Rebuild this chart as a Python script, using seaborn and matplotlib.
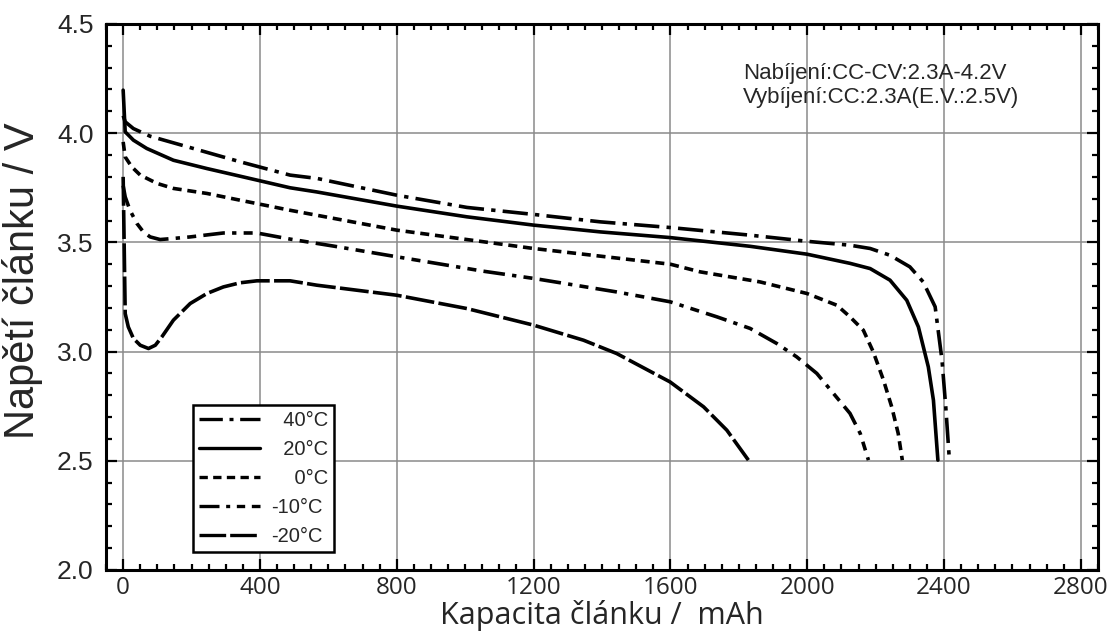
import pandas as pd
import seaborn as sns
import matplotlib.pyplot as plt
from matplotlib.ticker import MultipleLocator

# Discharge curves (capacity mAh, voltage V)
x_40 = [0, 6, 30, 79, 196, 342, 488, 566, 800, 1005, 1200, 1395, 1599, 1833, 1999, 2125,
        2184, 2242, 2300, 2339, 2374, 2384, 2394, 2405, 2415]
v_40 = [4.08, 4.052, 4.021, 3.986, 3.934, 3.869, 3.808, 3.793, 3.716, 3.660, 3.628, 3.594, 3.568,
        3.533, 3.505, 3.487, 3.472, 3.441, 3.388, 3.319, 3.205, 3.083, 2.961, 2.747, 2.518]

x_20 = [0, 6, 30, 69, 147, 245, 342, 488, 566, 800, 1005, 1200, 1395, 1599, 1833, 1999,
        2125, 2184, 2242, 2291, 2325, 2354, 2369, 2382]
v_20 = [4.197, 4.006, 3.968, 3.930, 3.876, 3.838, 3.803, 3.750, 3.731, 3.666, 3.617, 3.579,
        3.548, 3.522, 3.482, 3.446, 3.404, 3.380, 3.327, 3.235, 3.113, 2.930, 2.777, 2.503]

x_0 = [0, 6, 25, 50, 99, 147, 245, 342, 488, 800, 1200, 1600, 1687, 1862, 1999, 2087,
       2125, 2164, 2193, 2223, 2247, 2266, 2278]
v_0 = [3.96, 3.891, 3.846, 3.808, 3.770, 3.747, 3.724, 3.693, 3.647, 3.556, 3.472, 3.400,
       3.365, 3.319, 3.266, 3.212, 3.159, 3.098, 2.999, 2.869, 2.747, 2.625, 2.503]

x_m10 = [0, 6, 20, 40, 59, 79, 108, 147, 196, 293, 391, 488, 615, 800, 1053, 1200, 1443,
         1599, 1736, 1833, 1911, 1969, 2028, 2125, 2155, 2179]
v_m10 = [3.76, 3.708, 3.647, 3.587, 3.548, 3.525, 3.513, 3.518, 3.525, 3.543, 3.543, 3.515,
         3.483, 3.434, 3.368, 3.335, 3.273, 3.228, 3.159, 3.106, 3.037, 2.976, 2.900, 2.717,
         2.625, 2.503]

x_m20 = [0, 6, 15, 30, 50, 74, 94, 113, 147, 196, 245, 293, 342, 391, 488, 566, 800, 1005,
         1200, 1346, 1443, 1599, 1697, 1765, 1828]
v_m20 = [3.80, 3.174, 3.113, 3.060, 3.029, 3.014, 3.029, 3.067, 3.144, 3.220, 3.266, 3.296,
         3.315, 3.324, 3.324, 3.304, 3.258, 3.197, 3.121, 3.052, 2.991, 2.861, 2.747, 2.640,
         2.503]

# figure spaces pad the labels so they line up on the right like the original
labels = ["\u200740°C", "\u200720°C", "\u2007\u20070°C", "-10°C", "-20°C"]
curves = [(x_40, v_40), (x_20, v_20), (x_0, v_0), (x_m10, v_m10), (x_m20, v_m20)]

rows = []
for lab, (xs, vs) in zip(labels, curves):
    for xv, yv in zip(xs, vs):
        rows.append({"cap": xv, "volt": yv, "temp": lab})
df = pd.DataFrame(rows)

dash_styles = {
    labels[0]: (7, 2, 1.2, 2),
    labels[1]: "",
    labels[2]: (2.5, 1.6),
    labels[3]: (6, 2, 1.2, 2, 2.5, 2),
    labels[4]: (8, 1.2),
}

sns.set_theme(style="ticks")
plt.rcParams['font.family'] = ['Liberation Sans', 'DejaVu Sans']

fig = plt.figure(figsize=(11.14, 6.41), dpi=100)
ax = fig.add_axes([0.0952, 0.1108, 0.8904, 0.8518])

sns.lineplot(data=df, x="cap", y="volt", style="temp", dashes=dash_styles,
             color="black", linewidth=2.6, sort=False, estimator=None, ax=ax)

ax.set_xlim(-50, 2850)
ax.set_ylim(2.0, 4.5)
ax.xaxis.set_major_locator(MultipleLocator(400))
ax.xaxis.set_minor_locator(MultipleLocator(50))
ax.yaxis.set_major_locator(MultipleLocator(0.5))
ax.yaxis.set_minor_locator(MultipleLocator(0.1))
ax.grid(True, which="major", color="#8a8a8a", linewidth=1.1)
ax.set_axisbelow(True)

ax.tick_params(which="both", direction="in", top=True, right=True, color="black", width=1.6)
ax.tick_params(which="major", length=8)
ax.tick_params(which="minor", length=4.5)
ax.tick_params(axis="y", labelsize=19, pad=9)
ax.tick_params(axis="x", pad=4)
for t in ax.get_xticklabels():
    t.set_family("Open Sans")
    t.set_fontsize(17.5)
for s in ax.spines.values():
    s.set_linewidth(2.2)
    s.set_color("black")

ax.set_xlabel("Kapacita článku /  mAh", family="Open Sans", fontsize=22, labelpad=0.5)
ax.set_ylabel("Napětí článku / V", fontsize=30, labelpad=4)
ax.yaxis.set_label_coords(-0.064, 0.53)

ax.text(1813, 4.32, "Nabíjení:CC-CV:2.3A-4.2V\nVybíjení:CC:2.3A(E.V.:2.5V)",
        fontsize=16, va="top", ha="left", linespacing=1.2)

leg = ax.legend(loc="lower left", bbox_to_anchor=(0.0877, 0.033), borderaxespad=0,
                fontsize=14.5, handlelength=3.0, handletextpad=0.6, labelspacing=0.5,
                borderpad=0.3, fancybox=False, framealpha=1, edgecolor="black")
leg.get_frame().set_linewidth(1.8)
for line in leg.get_lines():
    line.set_linewidth(2.4)

fig.savefig("out.png", dpi=100)
